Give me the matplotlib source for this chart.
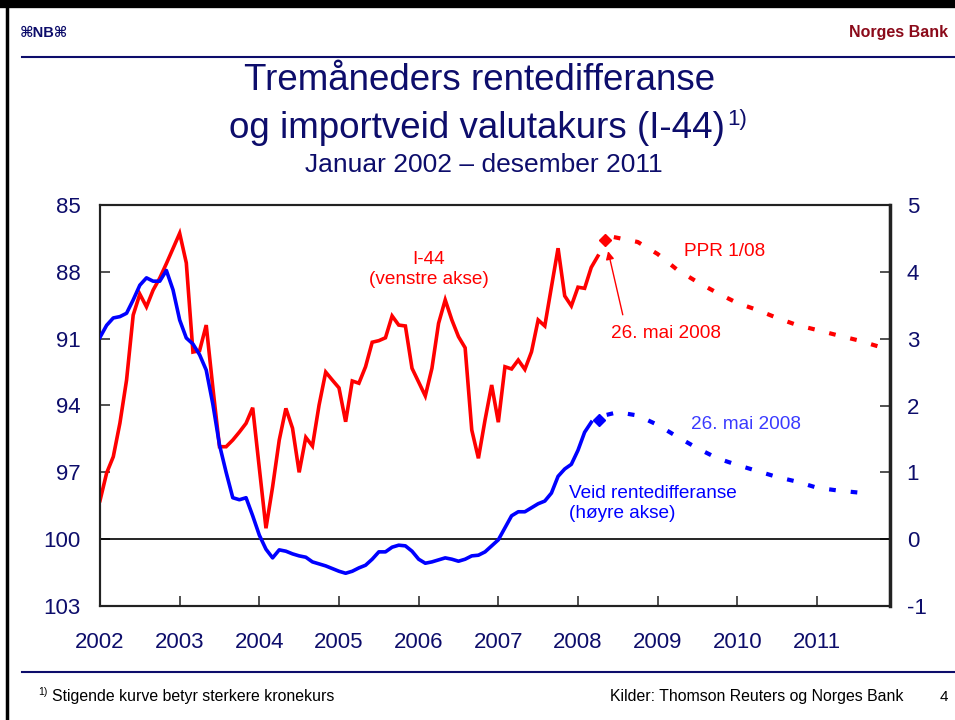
import numpy as np
import matplotlib
matplotlib.use('Agg')
import matplotlib.pyplot as plt
from matplotlib.lines import Line2D

plt.rcParams['font.family'] = ['Liberation Sans', 'DejaVu Sans']

# I-44, monthly from Jan 2002 (left axis, inverted)
i44 = [98.27, 97.03, 96.30, 94.79, 92.86, 89.94, 89.00, 89.57, 88.82, 88.28,
       87.63, 86.95, 86.27, 87.60, 91.60, 91.54, 90.39, 93.20, 95.85, 95.85,
       95.55, 95.19, 94.80, 94.10, 96.81, 99.51, 97.65, 95.55, 94.13, 95.02,
       97.00, 95.43, 95.82, 93.98, 92.50, 92.86, 93.21, 94.73, 92.90, 93.00,
       92.26, 91.16, 91.09, 90.96, 89.98, 90.39, 90.43, 92.33, 92.95, 93.57,
       92.33, 90.31, 89.26, 90.16, 90.91, 91.41, 95.10, 96.37, 94.65, 93.08,
       94.75, 92.26, 92.36, 91.96, 92.38, 91.59, 90.16, 90.43, 88.68, 86.94,
       89.08, 89.53, 88.69, 88.74, 87.80, 87.29]
# weighted interest rate differential, monthly from Jan 2002 (right axis)
rdiff = [3.02, 3.20, 3.31, 3.33, 3.38, 3.58, 3.80, 3.91, 3.86, 3.86,
         4.02, 3.73, 3.28, 3.01, 2.92, 2.76, 2.53, 2.02, 1.41, 1.00,
         0.62, 0.59, 0.62, 0.35, 0.06, -0.15, -0.28, -0.16, -0.18, -0.22,
         -0.25, -0.27, -0.34, -0.37, -0.40, -0.44, -0.48, -0.51, -0.48, -0.43,
         -0.39, -0.30, -0.19, -0.19, -0.12, -0.09, -0.10, -0.18, -0.30, -0.36,
         -0.34, -0.31, -0.28, -0.30, -0.33, -0.30, -0.25, -0.24, -0.19, -0.10,
         -0.01, 0.17, 0.35, 0.41, 0.41, 0.47, 0.53, 0.57, 0.69, 0.94,
         1.05, 1.12, 1.33, 1.60, 1.75]

# 26 May 2008 observations
i44_may = (2008.34, 86.57)
rdiff_may = (2008.26, 1.79)

# PPR 1/08 forecasts
fc_i44_x = [2008.45, 2008.75, 2009.0, 2009.25, 2009.5, 2009.75, 2010.0, 2010.25,
            2010.5, 2010.75, 2011.0, 2011.25, 2011.5, 2011.8]
fc_i44 = [86.44, 86.66, 87.20, 87.92, 88.46, 88.95, 89.40, 89.71,
          90.07, 90.39, 90.61, 90.84, 91.06, 91.38]
fc_rd_x = [2008.36, 2008.5, 2008.75, 2009.0, 2009.25, 2009.5, 2009.75, 2010.0,
           2010.25, 2010.5, 2010.75, 2011.0, 2011.25, 2011.58]
fc_rd = [1.86, 1.90, 1.85, 1.71, 1.53, 1.36, 1.21, 1.11,
         1.02, 0.93, 0.86, 0.77, 0.73, 0.69]

years = list(range(2002, 2012))
left_ticks = [85, 88, 91, 94, 97, 100, 103]
right_ticks = [5, 4, 3, 2, 1, 0, -1]

W, H = 955, 720
navy = '#0d0d6b'
red = '#ff0000'
blue = '#0000ff'

def px(x, y):
    return x / W, 1 - y / H

fig = plt.figure(figsize=(W / 100, H / 100), dpi=100)
ax = fig.add_axes([100 / W, 1 - 606 / H, 790 / W, 401 / H])
ax2 = ax.twinx()

x_i44 = 2002 + np.arange(len(i44)) / 12
x_rd = 2002 + np.arange(len(rdiff)) / 12

ax.plot(x_i44, i44, color=red, lw=2.6, solid_joinstyle='miter', zorder=3)
ax.plot([i44_may[0]], [i44_may[1]], 'D', color=red, ms=6.5, zorder=4)
ax.plot(fc_i44_x, fc_i44, color=red, lw=3, linestyle=(0, (1.6, 3.6)),
        dash_capstyle='butt', zorder=3)

ax2.plot(x_rd, rdiff, color=blue, lw=2.6, zorder=3)
ax2.plot([rdiff_may[0]], [rdiff_may[1]], 'D', color=blue, ms=6.5, zorder=4)
ax2.plot(fc_rd_x, fc_rd, color=blue, lw=3, linestyle=(0, (1.6, 3.6)),
         dash_capstyle='butt', zorder=3)
ax2.axhline(0, color='black', lw=1.2, zorder=2)

ax.set_xlim(2002, 2002 + 119 / 12)
ax.set_ylim(103, 85)
ax2.set_ylim(-1, 5)
ax.set_xticks(years)
ax.set_xticklabels([str(y) for y in years])
ax.set_yticks(left_ticks)
ax2.set_yticks(right_ticks)
ax2.set_yticklabels([str(t) for t in right_ticks])

ax.tick_params(axis='x', direction='in', length=7, width=1.2, pad=19,
               labelsize=16, labelcolor=navy, colors='#333333')
ax.tick_params(axis='y', direction='in', length=7, width=1.2, pad=14,
               labelsize=16, labelcolor=navy, colors='#333333')
ax2.tick_params(axis='y', direction='in', length=7, width=1.2, pad=12,
                labelsize=16, labelcolor=navy, colors='#333333')
for a in (ax, ax2):
    for s in a.spines.values():
        s.set_linewidth(1.5)
        s.set_color('#222222')
ax2.spines['right'].set_linewidth(2.5)

# annotations
ax.text(2006.13, 87.9, 'I-44\n(venstre akse)', color=red, fontsize=13.7,
        ha='center', va='center', linespacing=1.25)
ax.text(2009.33, 87.1, 'PPR 1/08', color=red, fontsize=13.7, va='center')
ax.text(2008.41, 90.75, '26. mai 2008', color=red, fontsize=13.7, va='center')
ax.annotate('', xy=(2008.37, 86.95), xytext=(2008.57, 90.05),
            arrowprops=dict(arrowstyle='-|>', color=red, lw=1.0,
                            mutation_scale=12))
ax2.text(2009.42, 1.72, '26. mai 2008', color='#3a3aff', fontsize=13.7, va='center')
ax2.text(2007.89, 0.53, 'Veid rentedifferanse\n(høyre akse)', color=blue,
         fontsize=13.7, va='center', linespacing=1.25)

# titles
fig.text(*px(480, 80), 'Tremåneders rentedifferanse', color=navy, fontsize=26.5,
         ha='center', va='center')
fig.text(*px(725, 128), 'og importveid valutakurs (I-44)', color=navy,
         fontsize=26.5, ha='right', va='center')
fig.text(*px(727, 119), '1)', color=navy, fontsize=16, ha='left', va='center')
fig.text(*px(484, 165), 'Januar 2002 – desember 2011', color=navy, fontsize=19,
         ha='center', va='center')

# slide header / footer
fig.text(*px(20, 33), '⌘NB⌘', color=navy, fontsize=10.5, fontweight='bold',
         ha='left', va='center')
fig.text(*px(948, 33), 'Norges Bank', color='#8b0a1a', fontsize=11.5,
         fontweight='bold', ha='right', va='center')
fig.add_artist(Line2D([22 / W, 1], [1 - 57 / H] * 2, color=navy, lw=1.5))
fig.add_artist(Line2D([22 / W, 1], [1 - 672 / H] * 2, color=navy, lw=1.5))
fig.add_artist(Line2D([0, 1], [1 - 4 / H] * 2, color='black', lw=6))
fig.add_artist(Line2D([7 / W] * 2, [0, 1], color='black', lw=2.5))

fig.text(*px(38, 692), '1)', fontsize=7.5, ha='left', va='center')
fig.text(*px(52, 697), 'Stigende kurve betyr sterkere kronekurs', fontsize=11.4,
         ha='left', va='center')
fig.text(*px(903, 697), 'Kilder: Thomson Reuters og Norges Bank', fontsize=11.4,
         ha='right', va='center')
fig.text(*px(944, 697), '4', fontsize=11, ha='center', va='center')

fig.savefig('out.png', dpi=100)
